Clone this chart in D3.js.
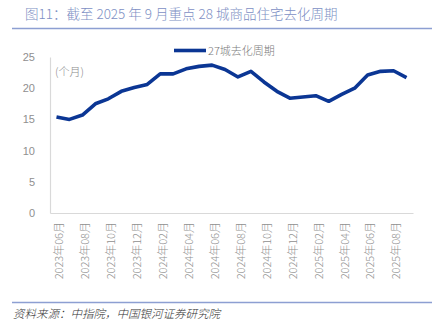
<!DOCTYPE html>
<html><head><meta charset="utf-8">
<script src="https://cdn.jsdelivr.net/npm/d3@7"></script>
<style>
html,body{margin:0;padding:0;background:#fff;}
svg{display:block;}
text{font-family:"Noto Sans CJK SC","Noto Sans",sans-serif;}
</style></head>
<body>
<svg id="c" width="437" height="323"></svg>
<script>
const months = ["2023年06月","2023年07月","2023年08月","2023年09月","2023年10月","2023年11月","2023年12月",
"2024年01月","2024年02月","2024年03月","2024年04月","2024年05月","2024年06月","2024年07月","2024年08月",
"2024年09月","2024年10月","2024年11月","2024年12月","2025年01月","2025年02月","2025年03月","2025年04月",
"2025年05月","2025年06月","2025年07月","2025年08月","2025年09月"];
const cycle27 = [15.4,15.0,15.7,17.5,18.3,19.5,20.1,20.6,22.3,22.3,23.1,23.5,23.7,23.0,21.8,22.7,21.0,19.5,18.4,18.6,18.8,17.9,19.0,20.0,22.1,22.7,22.8,21.7];
const yTicks = [0,5,10,15,20,25];
const seriesName = "27城去化周期";
const unitLabel = "(个月)";
const titleText = "图11：截至 2025 年 9 月重点 28 城商品住宅去化周期";
const sourceText = "资料来源：中指院，中国银河证券研究院";

const svg = d3.select("#c");
const L = 50, R = 413, T = 57, B = 213;

// title
svg.append("text").attr("x",25).attr("y",19).attr("font-size",13.5).attr("font-weight",300).attr("fill","#7d8fc4").text(titleText);
svg.append("line").attr("x1",12).attr("x2",432).attr("y1",28.5).attr("y2",28.5).attr("stroke","#8d9fd2").attr("stroke-width",1.6);

const x = d3.scaleBand().domain(months).range([L,R]);
const y = d3.scaleLinear().domain([0,25]).range([B,T]);

// y axis
const ya = svg.append("g").attr("transform",`translate(${L},0)`)
  .call(d3.axisLeft(y).tickValues(yTicks).tickSize(0).tickPadding(15));
ya.select(".domain").attr("stroke","#d9d9d9").attr("stroke-width",1.2);
ya.selectAll("text").attr("font-size",11).attr("fill","#8f8f8f").style("font-family","'Liberation Sans',sans-serif");

// x axis
const labelMonths = months.filter((d,i)=>i%2===0 && i<27);
const xa = svg.append("g").attr("transform",`translate(0,${B})`)
  .call(d3.axisBottom(x).tickValues(labelMonths).tickSize(0).tickFormat(d=>d));
xa.select(".domain").attr("stroke","#d9d9d9").attr("stroke-width",1.2);
xa.selectAll("text").attr("font-size",11).attr("font-weight",300).attr("fill","#8f8f8f")
  .attr("text-anchor","end").attr("transform","rotate(-90)")
  .attr("x",-9).attr("y",3).attr("dy","0.35em");

// unit label
svg.append("text").attr("x",55).attr("y",76).attr("font-size",11).attr("font-weight",300).attr("fill","#8a8a8a").text(unitLabel);

// line
const line = d3.line().x(d=>x(d.m)+x.bandwidth()/2).y(d=>y(d.v));
svg.append("path").datum(months.map((m,i)=>({m,v:cycle27[i]})))
  .attr("d",line).attr("fill","none").attr("stroke","#0b3694").attr("stroke-width",3.6).attr("stroke-linejoin","round");

// legend
svg.append("line").attr("x1",174).attr("x2",206).attr("y1",50.5).attr("y2",50.5).attr("stroke","#0b3694").attr("stroke-width",3.6);
svg.append("text").attr("x",208).attr("y",54.5).attr("font-size",11).attr("font-weight",300).attr("fill","#7a7a7a").text(seriesName);

// footer
svg.append("line").attr("x1",12).attr("x2",432).attr("y1",302.5).attr("y2",302.5).attr("stroke","#8d9fd2").attr("stroke-width",1.6);
svg.append("text").attr("x",13).attr("y",318).attr("font-size",11.5).attr("font-weight",300).attr("fill","#333").attr("font-style","italic").text(sourceText);
</script>
</body></html>
